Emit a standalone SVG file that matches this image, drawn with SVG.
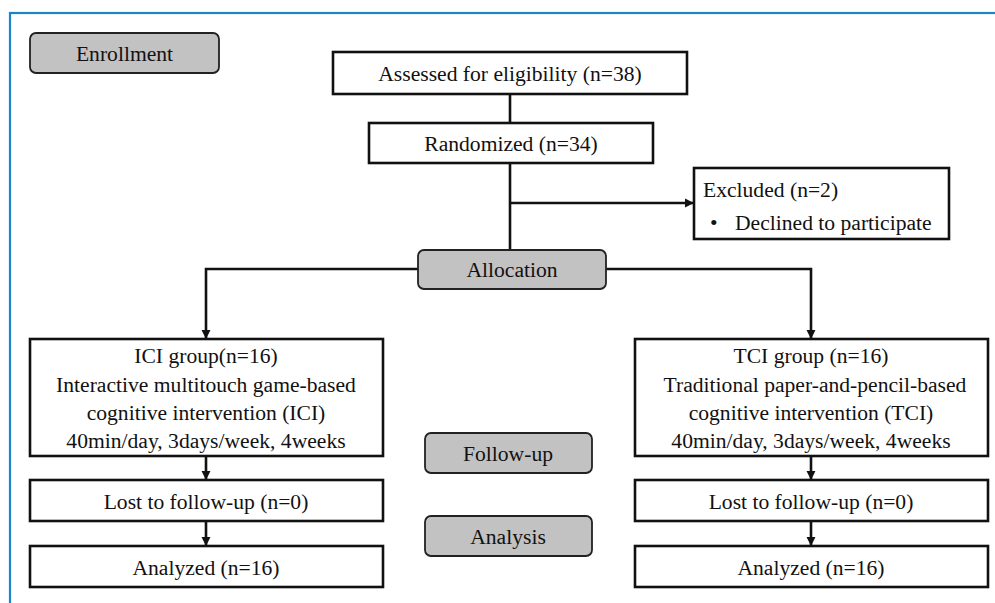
<svg xmlns="http://www.w3.org/2000/svg" width="995" height="603" viewBox="0 0 995 603">
<style>
text{font-family:"Liberation Serif","Times New Roman",serif;font-size:21.6px;fill:#111}
.box{fill:#fff;stroke:#111;stroke-width:2.6}
.stage{fill:#c2c2c2;stroke:#222;stroke-width:1.8}
.ln{fill:none;stroke:#111;stroke-width:2.6}
.c{text-anchor:middle}
</style>
<defs>
<marker id="ah" viewBox="0 0 10 10" refX="9" refY="5" markerWidth="3.6" markerHeight="3.6" orient="auto" markerUnits="strokeWidth">
<path d="M0,0 L10,5 L0,10 z" fill="#111"/>
</marker>
</defs>
<rect width="995" height="603" fill="#fff"/>
<rect x="10" y="13" width="1000" height="620" fill="none" stroke="#1a86c8" stroke-width="2.2"/>
<g id="connectors">
<line class="ln" x1="510" y1="94" x2="510" y2="123"/>
<line class="ln" x1="510" y1="163" x2="510" y2="250"/>
<line class="ln" x1="510" y1="203" x2="693" y2="203" marker-end="url(#ah)"/>
<polyline class="ln" points="418,269 206,269 206,338" marker-end="url(#ah)"/>
<polyline class="ln" points="606,269 811,269 811,338" marker-end="url(#ah)"/>
<line class="ln" x1="206" y1="456" x2="206" y2="479" marker-end="url(#ah)"/>
<line class="ln" x1="206" y1="521" x2="206" y2="545" marker-end="url(#ah)"/>
<line class="ln" x1="811" y1="456" x2="811" y2="479" marker-end="url(#ah)"/>
<line class="ln" x1="811" y1="521" x2="811" y2="545" marker-end="url(#ah)"/>
</g>
<g id="enrollment"><rect class="stage" x="30" y="33" width="189" height="40" rx="6"/><text class="c" x="124.5" y="61">Enrollment</text></g>
<g id="assessed"><rect class="box" x="333" y="52" width="354" height="42"/><text class="c" x="510" y="81">Assessed for eligibility (n=38)</text></g>
<g id="randomized"><rect class="box" x="369" y="123" width="284" height="40"/><text class="c" x="511" y="151">Randomized (n=34)</text></g>
<g id="excluded"><rect class="box" x="694" y="168" width="255" height="71"/><text x="703" y="197">Excluded (n=2)</text><text x="710" y="230">•</text><text x="735" y="230">Declined to participate</text></g>
<g id="allocation"><rect class="stage" x="418" y="250" width="188" height="39" rx="6"/><text class="c" x="512" y="277">Allocation</text></g>
<g id="ici"><rect class="box" x="30" y="339" width="353" height="117"/>
<text class="c" x="206" y="363">ICI group(n=16)</text>
<text class="c" x="206" y="392">Interactive multitouch game-based</text>
<text class="c" x="206" y="420">cognitive intervention (ICI)</text>
<text class="c" x="206" y="448">40min/day, 3days/week, 4weeks</text></g>
<g id="tci"><rect class="box" x="635" y="339" width="353" height="117"/>
<text class="c" x="811" y="363">TCI group (n=16)</text>
<text class="c" x="815" y="392">Traditional paper-and-pencil-based</text>
<text class="c" x="811" y="420">cognitive intervention (TCI)</text>
<text class="c" x="811" y="448">40min/day, 3days/week, 4weeks</text></g>
<g id="followup"><rect class="stage" x="425" y="433" width="167" height="40" rx="6"/><text class="c" x="508" y="461">Follow-up</text></g>
<g id="analysis"><rect class="stage" x="425" y="516" width="167" height="40" rx="6"/><text class="c" x="508" y="544">Analysis</text></g>
<g id="lost-ici"><rect class="box" x="30" y="480" width="353" height="41"/><text class="c" x="206" y="509">Lost to follow-up (n=0)</text></g>
<g id="lost-tci"><rect class="box" x="635" y="480" width="353" height="41"/><text class="c" x="811" y="509">Lost to follow-up (n=0)</text></g>
<g id="analyzed-ici"><rect class="box" x="30" y="546" width="353" height="41"/><text class="c" x="206" y="575">Analyzed (n=16)</text></g>
<g id="analyzed-tci"><rect class="box" x="635" y="546" width="353" height="41"/><text class="c" x="811" y="575">Analyzed (n=16)</text></g>
</svg>
